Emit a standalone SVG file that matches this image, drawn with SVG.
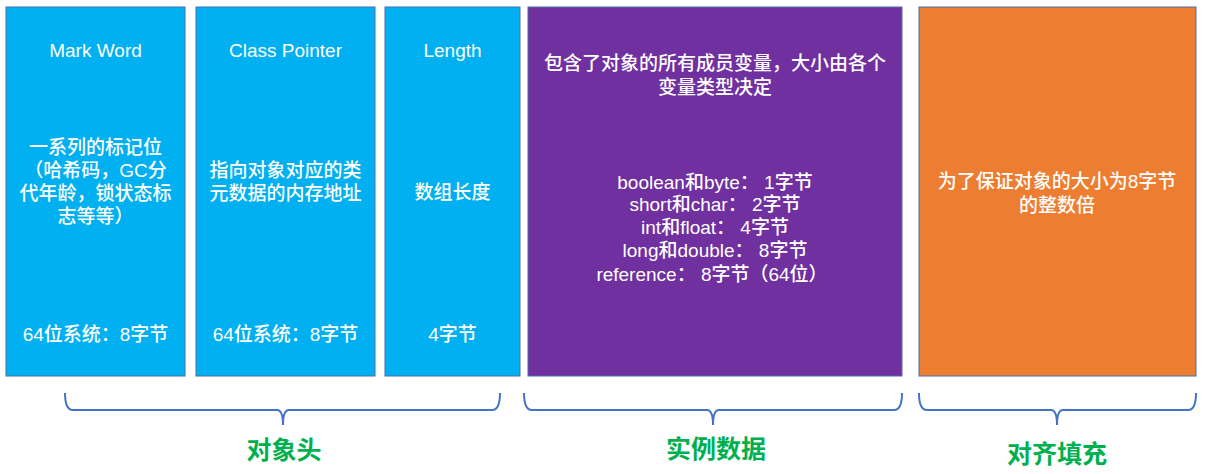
<svg xmlns="http://www.w3.org/2000/svg" width="1210" height="474" viewBox="0 0 1210 474">
<style>
  .box { stroke: #4a6ea8; stroke-width: 1; }
  .blue { fill: #00B0F0; }
  .purple { fill: #7030A0; }
  .orange { fill: #ED7D31; }
  .t { fill: #ffffff; font-family: "Liberation Sans", "Noto Sans CJK SC", sans-serif; font-size: 19px; font-weight: 500; text-anchor: middle; dominant-baseline: central; }
  .lbl { fill: #00B050; font-family: "Noto Sans CJK SC", sans-serif; font-size: 25px; font-weight: bold; text-anchor: middle; dominant-baseline: central; }
  .brace { fill: none; stroke: #4472C4; stroke-width: 2; }
</style>
<rect width="1210" height="474" fill="#ffffff"/>
<g id="mark-word">
  <rect class="box blue" x="6" y="7" width="179" height="369"/>
  <text class="t" x="95.5" y="50">Mark Word</text>
  <text class="t" x="95.5" y="147">一系列的标记位</text>
  <text class="t" x="95.5" y="170">（哈希码，GC分</text>
  <text class="t" x="95.5" y="193">代年龄，锁状态标</text>
  <text class="t" x="95.5" y="216">志等等）</text>
  <text class="t" x="95.5" y="334">64位系统：8字节</text>
</g>
<g id="class-pointer">
  <rect class="box blue" x="196" y="7" width="179" height="369"/>
  <text class="t" x="285.5" y="50">Class Pointer</text>
  <text class="t" x="285.5" y="170">指向对象对应的类</text>
  <text class="t" x="285.5" y="193">元数据的内存地址</text>
  <text class="t" x="285.5" y="334">64位系统：8字节</text>
</g>
<g id="length">
  <rect class="box blue" x="385" y="7" width="135" height="369"/>
  <text class="t" x="452.5" y="50">Length</text>
  <text class="t" x="452.5" y="192">数组长度</text>
  <text class="t" x="452.5" y="334">4字节</text>
</g>
<g id="instance-data">
  <rect class="box purple" x="528" y="7" width="374" height="369"/>
  <text class="t" x="715" y="63">包含了对象的所有成员变量，大小由各个</text>
  <text class="t" x="715" y="87">变量类型决定</text>
  <text class="t" x="715" y="182">boolean和byte： 1字节</text>
  <text class="t" x="715" y="204">short和char： 2字节</text>
  <text class="t" x="715" y="227">int和float： 4字节</text>
  <text class="t" x="715" y="250">long和double： 8字节</text>
  <text class="t" x="712" y="274">reference： 8字节（64位）</text>
</g>
<g id="padding">
  <rect class="box orange" x="919" y="7" width="277" height="369"/>
  <text class="t" x="1057" y="181">为了保证对象的大小为8字节</text>
  <text class="t" x="1057" y="205">的整数倍</text>
</g>
<g id="connectors">
  <path class="brace" d="M65,393 Q65,410 73,410 L277,410 Q283,410 283,425 Q283,410 289,410 L492,410 Q500,410 500,393"/>
  <path class="brace" d="M524,393 Q524,410 532,410 L707,410 Q713,410 713,425 Q713,410 719,410 L894,410 Q902,410 902,393"/>
  <path class="brace" d="M919,393 Q919,410 927,410 L1051,410 Q1057,410 1057,425 Q1057,410 1063,410 L1188,410 Q1196,410 1196,393"/>
</g>
<g id="labels">
  <text class="lbl" x="284" y="448">对象头</text>
  <text class="lbl" x="716" y="447">实例数据</text>
  <text class="lbl" x="1057" y="452">对齐填充</text>
</g>
</svg>
